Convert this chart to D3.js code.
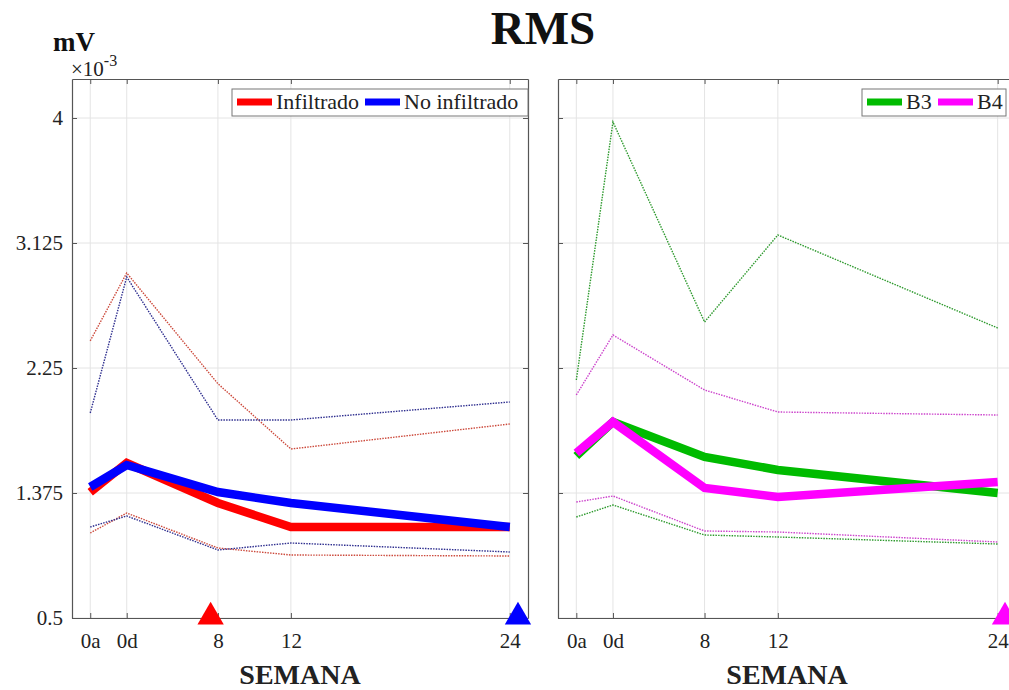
<!DOCTYPE html>
<html>
<head>
<meta charset="utf-8">
<script src="https://cdn.jsdelivr.net/npm/d3@7"></script>
<style>
  html, body { margin: 0; padding: 0; background: #fff; }
  svg { display: block; font-family: "Liberation Serif", "Times New Roman", serif; }
</style>
</head>
<body>
<svg id="chart" width="1009" height="690"></svg>
<script>
// Weeks (numeric position) and their labels
const weeks = [1, 3, 8, 12, 24];
const weekLabels = ["0a", "0d", "8", "12", "24"];
const yTicks = [0.5, 1.375, 2.25, 3.125, 4];
const yTickLabels = ["0.5", "1.375", "2.25", "3.125", "4"];

// RMS (x10^-3 mV) — Infiltrado / No infiltrado
const infiltradoMean  = [1.38, 1.585, 1.305, 1.137, 1.137];
const infiltradoHigh  = [2.44, 2.915, 2.14, 1.683, 1.858];
const infiltradoLow   = [1.095, 1.235, 0.99, 0.941, 0.934];
const noInfMean       = [1.417, 1.571, 1.382, 1.305, 1.137];
const noInfHigh       = [1.935, 2.887, 1.886, 1.886, 2.012];
const noInfLow        = [1.137, 1.214, 0.976, 1.025, 0.962];

// RMS (x10^-3 mV) — B3 / B4
const b3Mean = [1.634, 1.872, 1.627, 1.536, 1.375];
const b3High = [2.166, 3.972, 2.572, 3.181, 2.53];
const b3Low  = [1.207, 1.291, 1.081, 1.067, 1.018];
const b4Mean = [1.655, 1.872, 1.41, 1.347, 1.452];
const b4High = [2.061, 2.481, 2.096, 1.942, 1.921];
const b4Low  = [1.312, 1.354, 1.109, 1.102, 1.032];

// Event markers on the week axis
const leftMarkers  = [{week: 7.6, color: "#ff0000"}, {week: 24.45, color: "#0000ff"}];
const rightMarkers = [{week: 24.4, color: "#ff00ff"}];

const svg = d3.select("#chart");
const plotTop = 79, plotBottom = 618;
const y = d3.scaleLinear().domain([0.5, 4.273]).range([plotBottom, plotTop]);

function panel(x0, x1, series, markers, legendItems, legendBox, showYLabels) {
  const x = d3.scaleLinear().domain([0, 25]).range([x0, x1]);
  const g = svg.append("g");

  // grid
  g.append("g").selectAll("line").data(weeks).join("line")
    .attr("x1", d => x(d)).attr("x2", d => x(d))
    .attr("y1", plotTop).attr("y2", plotBottom)
    .attr("stroke", "#e4e4e4").attr("stroke-width", 1);
  g.append("g").selectAll("line").data(yTicks).join("line")
    .attr("x1", x0).attr("x2", x1)
    .attr("y1", d => y(d)).attr("y2", d => y(d))
    .attr("stroke", "#e4e4e4").attr("stroke-width", 1);

  const line = d3.line().x((d, i) => x(weeks[i])).y(d => y(d));

  // thin dotted range lines
  series.filter(s => s.dotted).forEach(s => {
    g.append("path").datum(s.values)
      .attr("d", line).attr("fill", "none")
      .attr("stroke", s.color).attr("stroke-width", 1.4)
      .attr("stroke-dasharray", "1.5,1.2");
  });
  // thick mean lines
  series.filter(s => !s.dotted).forEach(s => {
    g.append("path").datum(s.values)
      .attr("d", line).attr("fill", "none")
      .attr("stroke", s.color).attr("stroke-width", 8.5)
      .attr("stroke-linejoin", "miter");
  });

  // axes (ticks pointing inward)
  const axisColor = "#555";
  const bx = g.append("g").attr("transform", `translate(0,${plotBottom})`)
    .call(d3.axisBottom(x).tickValues(weeks).tickFormat((d, i) => weekLabels[i]).tickSizeInner(-5).tickSizeOuter(0).tickPadding(15));
  const tx = g.append("g").attr("transform", `translate(0,${plotTop})`)
    .call(d3.axisTop(x).tickValues(weeks).tickFormat("").tickSizeInner(-5).tickSizeOuter(0));
  const ly = g.append("g").attr("transform", `translate(${x0},0)`)
    .call(d3.axisLeft(y).tickValues(yTicks).tickFormat((d, i) => showYLabels ? yTickLabels[i] : "").tickSizeInner(-5).tickSizeOuter(0).tickPadding(9));
  const ry = g.append("g").attr("transform", `translate(${x1},0)`)
    .call(d3.axisRight(y).tickValues(yTicks).tickFormat("").tickSizeInner(-5).tickSizeOuter(0));
  [bx, tx, ly, ry].forEach(a => {
    a.selectAll("path.domain").attr("stroke", axisColor).attr("stroke-width", 1.2);
    a.selectAll(".tick line").attr("stroke", axisColor);
    a.selectAll(".tick text").attr("font-family", "Liberation Serif, serif")
      .attr("font-size", 21).attr("fill", "#222");
  });

  // triangle markers
  const tri = d3.symbol().type(d3.symbolTriangle).size(300);
  g.append("g").selectAll("path").data(markers).join("path")
    .attr("d", tri)
    .attr("transform", d => `translate(${x(d.week)},${y(0.5) - 1})`)
    .attr("fill", d => d.color);

  // x label
  g.append("text").attr("x", (x0 + x1) / 2).attr("y", 684)
    .attr("text-anchor", "middle").attr("font-weight", "bold")
    .attr("font-size", 28).attr("fill", "#222").text("SEMANA");

  // legend
  const lg = g.append("g");
  lg.append("rect").attr("x", legendBox.x).attr("y", legendBox.y)
    .attr("width", legendBox.w).attr("height", legendBox.h)
    .attr("fill", "#fff").attr("stroke", "#777").attr("stroke-width", 1);
  legendItems.forEach(it => {
    lg.append("line").attr("x1", it.lx).attr("x2", it.lx + 35)
      .attr("y1", legendBox.y + 13).attr("y2", legendBox.y + 13)
      .attr("stroke", it.color).attr("stroke-width", 7);
    lg.append("text").attr("x", it.lx + 39).attr("y", legendBox.y + 20)
      .attr("font-size", 22).attr("fill", "#222").text(it.label);
  });
}

panel(72, 528, [
  {values: infiltradoHigh, color: "#cc4a3c", dotted: true},
  {values: infiltradoLow,  color: "#cc4a3c", dotted: true},
  {values: noInfHigh,      color: "#2f2f8f", dotted: true},
  {values: noInfLow,       color: "#2f2f8f", dotted: true},
  {values: infiltradoMean, color: "#ff0000"},
  {values: noInfMean,      color: "#0000ff"}
], leftMarkers, [
  {label: "Infiltrado", color: "#ff0000", lx: 237},
  {label: "No infiltrado", color: "#0000ff", lx: 365}
], {x: 232, y: 89, w: 296, h: 27}, true);

panel(558, 1016, [
  {values: b3High, color: "#2e9a2e", dotted: true},
  {values: b3Low,  color: "#2e9a2e", dotted: true},
  {values: b4High, color: "#cc44cc", dotted: true},
  {values: b4Low,  color: "#cc44cc", dotted: true},
  {values: b3Mean, color: "#00bb00"},
  {values: b4Mean, color: "#ff00ff"}
], rightMarkers, [
  {label: "B3", color: "#00bb00", lx: 867},
  {label: "B4", color: "#ff00ff", lx: 938}
], {x: 862, y: 89, w: 144, h: 27}, false);

// title and unit
svg.append("text").attr("x", 543).attr("y", 44).attr("text-anchor", "middle")
  .attr("font-weight", "bold").attr("font-size", 47).attr("fill", "#111").text("RMS");
svg.append("text").attr("x", 53).attr("y", 51)
  .attr("font-weight", "bold").attr("font-size", 27).attr("fill", "#111").text("mV");
const mult = svg.append("text").attr("x", 71).attr("y", 76)
  .attr("font-size", 21).attr("fill", "#222");
mult.append("tspan").text("\u00d710");
mult.append("tspan").attr("dy", -10).attr("font-size", 16).text("-3");
</script>
</body>
</html>
